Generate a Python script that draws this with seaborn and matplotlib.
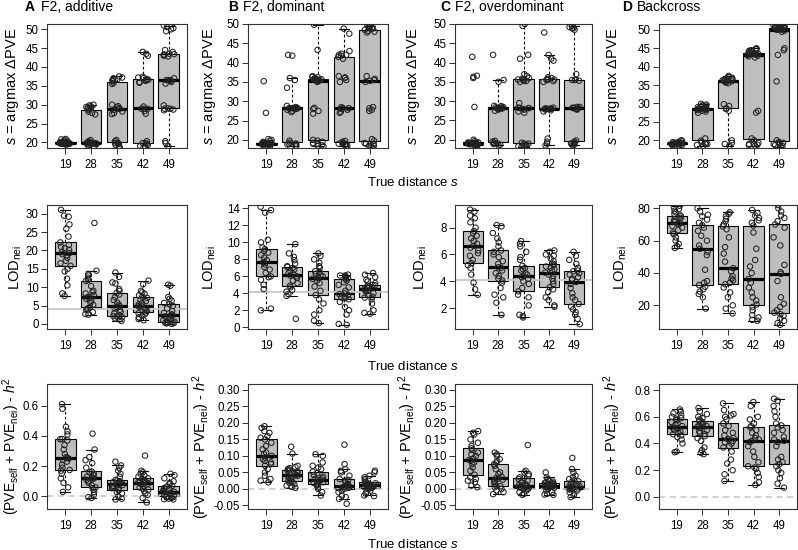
import numpy as np
import pandas as pd
import seaborn as sns
import matplotlib.pyplot as plt
from matplotlib.ticker import FormatStrFormatter

plt.rcParams['font.family'] = ['Liberation Sans', 'DejaVu Sans']
plt.rcParams['mathtext.fontset'] = 'custom'
plt.rcParams['mathtext.rm'] = 'Liberation Sans'
plt.rcParams['mathtext.it'] = 'Liberation Sans:italic'
plt.rcParams['mathtext.bf'] = 'Liberation Sans:bold'
plt.rcParams['axes.unicode_minus'] = False

np.random.seed(3)

distances = ['19', '28', '35', '42', '49']
panel_letters = ['A', 'B', 'C', 'D']
panel_titles = ['F2, additive', 'F2, dominant', 'F2, overdominant', 'Backcross']

# row 1: s = argmax dPVE
argmax_add = [
    [19.4, 19.5, 19.6, 19.6, 19.7, 19.7, 19.7, 19.8, 19.8, 19.8, 19.8, 19.8, 19.8, 19.9, 19.9, 19.9, 20.0, 20.0, 20.0, 20.1, 20.2, 20.4, 20.6, 20.8, 20.9],
    [18.6, 18.9, 19.2, 19.4, 19.5, 19.6, 19.7, 19.7, 19.8, 19.8, 19.8, 19.8, 19.8, 19.8, 19.8, 19.8, 19.9, 20.1, 20.3, 20.6,
     27.4, 27.8, 28.1, 28.6, 28.9, 29.0, 29.1, 29.2, 29.4, 29.6, 29.8, 30.0],
    [18.5, 18.7, 19.0, 19.3, 19.6, 19.8, 19.8, 20.3, 20.6, 27.5, 27.8, 28.2, 28.6, 28.9, 28.9, 29.0, 29.3, 29.6, 30.0,
     35.5, 35.8, 36.2, 36.5, 36.5, 36.8, 37.0, 37.2, 37.5],
    [18.5, 18.8, 19.0, 19.3, 19.6, 19.8, 19.8, 20.3, 27.6, 28.3, 28.9, 28.9, 28.9, 29.5,
     35.8, 36.0, 36.3, 36.5, 36.6, 36.8, 37.0, 37.2, 37.4, 43.0, 43.5, 44.0],
    [19.0, 19.8, 20.3, 28.5, 28.7, 28.9, 28.9, 29.0, 29.8, 35.6, 36.0, 36.3, 36.5, 36.5, 36.5, 37.0,
     42.8, 43.0, 43.2, 43.3, 43.4, 43.5, 44.0, 44.5, 49.5, 50.0, 50.3, 50.6, 51.0],
]
argmax_dom = [
    [18.5, 18.6, 18.7, 18.8, 18.8, 18.9, 18.9, 19.0, 19.0, 19.0, 19.0, 19.0, 19.0, 19.0, 19.1, 19.1, 19.2, 19.2, 19.3, 19.5, 19.8, 20.0, 20.2, 27.0, 35.2],
    [18.3, 18.5, 18.8, 19.0, 19.0, 19.0, 19.3, 19.8, 27.2, 27.5, 27.8, 28.0, 28.2, 28.2, 28.2, 28.2, 28.2, 28.2, 28.2, 28.3, 28.5, 28.8,
     33.5, 35.5, 36.0, 41.8, 42.0],
    [18.3, 18.5, 18.6, 19.0, 19.0, 19.2, 19.5, 19.8, 20.0, 26.8, 27.5, 28.0, 28.3,
     35.0, 35.2, 35.3, 35.5, 35.5, 35.5, 35.6, 35.6, 35.7, 35.8, 35.8, 36.0, 36.2, 36.3, 36.5, 43.3, 49.8],
    [18.3, 18.5, 18.7, 18.9, 19.0, 19.0, 19.2, 19.5, 19.7, 27.0, 27.3, 27.8, 28.0, 28.2, 28.2, 28.5,
     35.0, 35.5, 36.0, 36.2, 36.5, 41.0, 41.5, 41.8, 42.0, 42.0, 42.3, 43.0, 47.5, 48.8],
    [18.0, 18.2, 18.4, 18.5, 19.0, 19.0, 19.2, 19.8, 20.2, 27.5, 27.8, 28.2, 28.5, 35.0, 35.3, 35.5, 35.8, 36.5,
     47.8, 48.0, 48.2, 48.5, 48.8, 49.0, 49.0, 49.2, 49.3, 49.5, 49.6],
]
argmax_over = [
    [18.4, 18.5, 18.6, 18.7, 18.8, 18.8, 18.9, 18.9, 19.0, 19.0, 19.0, 19.0, 19.0, 19.0, 19.0, 19.1, 19.1, 19.2, 19.2, 19.3, 19.3, 19.6, 20.0,
     28.5, 36.0, 36.3, 36.6, 41.5],
    [18.5, 18.7, 18.9, 19.0, 19.0, 19.2, 19.5, 19.7, 27.5, 27.8, 28.0, 28.1, 28.2, 28.2, 28.2, 28.2, 28.2, 28.3, 28.4, 28.5, 28.7, 28.8,
     35.0, 35.5, 42.0],
    [18.0, 18.2, 18.3, 18.5, 18.6, 18.8, 19.0, 19.0, 19.2, 27.0, 27.3, 27.8, 28.0, 28.2, 28.2, 28.2, 28.3, 29.5,
     35.0, 35.2, 35.3, 35.5, 35.5, 35.6, 35.8, 36.0, 36.5, 37.0, 41.0, 42.0, 49.5, 50.0],
    [18.5, 19.0, 19.5, 20.3, 27.3, 27.6, 27.8, 28.0, 28.0, 28.0, 28.0, 28.0, 28.0, 28.0, 28.1, 28.3,
     35.0, 35.2, 35.5, 35.5, 35.6, 35.8, 36.0, 36.2, 40.5, 41.0, 42.0, 47.8],
    [18.5, 18.7, 18.9, 19.0, 19.0, 19.3, 19.5, 19.8, 27.8, 28.0, 28.2, 28.2, 28.2, 28.3, 28.5, 28.5,
     35.3, 35.5, 35.5, 35.6, 37.0, 48.5, 48.8, 49.0, 49.2, 49.5],
]
argmax_bc = [
    [18.5, 18.6, 18.7, 18.8, 18.9, 18.9, 19.0, 19.0, 19.0, 19.1, 19.1, 19.1, 19.2, 19.2, 19.2, 19.2, 19.2, 19.3, 19.3, 19.3, 19.4, 19.5, 19.6, 19.8, 20.0],
    [18.5, 18.7, 19.0, 19.0, 19.2, 19.5, 19.9, 20.5, 27.5, 27.8, 28.0, 28.2, 28.3, 28.5, 28.5, 28.5, 28.5, 28.6, 28.7, 28.8,
     29.0, 29.2, 29.4, 29.5, 29.7, 29.9],
    [18.5, 19.0, 19.3, 20.0, 28.0, 28.5, 28.7, 29.3, 29.8, 35.5, 35.7, 35.8, 36.0, 36.0, 36.2, 36.3, 36.3, 36.3, 36.3,
     36.5, 36.5, 36.6, 36.8, 37.0, 37.2, 37.5],
    [18.5, 18.7, 18.8, 19.0, 19.0, 19.3, 20.0, 20.5, 27.5, 28.0, 42.5, 42.8, 43.0, 43.2, 43.3, 43.5, 43.5, 43.5, 43.5,
     43.6, 43.8, 44.0, 44.2, 44.3, 44.5, 44.7, 44.8, 45.0],
    [18.3, 18.5, 18.7, 19.0, 19.0, 19.2, 19.3, 19.5, 20.0, 36.0, 43.2, 44.5, 45.0,
     49.5, 49.8, 50.0, 50.0, 50.2, 50.3, 50.4, 50.5, 50.5, 50.5, 50.5, 50.6, 50.6, 50.8, 50.9, 51.0, 51.0, 51.2],
]

# row 2: LOD of the neighbouring locus
lod_add = [
    [7.6, 8.3, 10.5, 12.3, 14.3, 15.0, 15.8, 16.5, 17.2, 18.0, 18.7, 19.0, 19.3, 19.6, 20.2, 20.6, 21.0, 21.5, 22.2, 23.8, 25.9, 27.1, 29.2, 29.5, 31.1],
    [2.5, 2.7, 3.2, 3.8, 4.0, 4.3, 4.5, 5.2, 5.8, 6.3, 6.8, 7.0, 7.3, 7.8, 8.3, 8.6, 9.0, 10.3, 11.7, 12.0, 12.6, 13.2, 13.6, 14.5, 27.5],
    [0.8, 1.2, 1.5, 1.8, 2.0, 2.1, 2.2, 2.8, 3.3, 3.8, 4.3, 4.6, 4.8, 5.2, 5.8, 6.5, 7.3, 8.0, 8.4, 9.0, 9.5, 11.0, 11.3, 12.8, 14.0],
    [1.0, 1.3, 1.8, 2.2, 2.6, 2.9, 3.1, 3.5, 3.9, 4.3, 4.6, 4.8, 5.0, 5.3, 5.7, 6.2, 6.6, 7.1, 7.4, 7.8, 8.2, 8.6, 9.0, 10.8, 11.8],
    [0.0, 0.1, 0.2, 0.3, 0.4, 0.5, 0.6, 1.0, 1.4, 1.7, 2.0, 2.2, 2.3, 2.6, 3.0, 3.5, 4.2, 4.9, 5.4, 5.7, 6.3, 6.8, 7.3, 10.4, 10.7],
]
lod_dom = [
    [2.0, 2.2, 4.5, 5.0, 5.6, 5.9, 6.0, 6.4, 6.8, 7.1, 7.4, 7.6, 7.7, 7.9, 8.2, 8.5, 8.8, 9.0, 9.2, 9.4, 10.0, 10.3, 13.5, 13.8, 14.2],
    [1.0, 3.7, 3.9, 4.2, 4.4, 4.7, 4.9, 5.2, 5.5, 5.8, 6.0, 6.1, 6.2, 6.4, 6.6, 6.8, 7.0, 7.1, 7.2, 7.5, 7.9, 8.3, 8.7, 9.8],
    [0.5, 0.8, 1.5, 2.0, 2.8, 3.3, 3.8, 4.3, 4.8, 5.2, 5.5, 5.7, 5.8, 5.9, 6.0, 6.1, 6.3, 6.5, 6.6, 7.0, 7.2, 7.6, 8.0, 8.4, 8.7],
    [0.3, 0.4, 1.5, 2.0, 2.4, 3.0, 3.3, 3.4, 3.5, 3.6, 3.8, 3.9, 4.0, 4.3, 4.7, 5.0, 5.3, 5.5, 5.7, 5.8, 5.9, 6.0, 6.1, 6.1, 6.2],
    [1.6, 1.7, 2.0, 2.8, 3.3, 3.5, 3.6, 3.8, 4.0, 4.2, 4.3, 4.4, 4.5, 4.6, 4.7, 4.8, 4.9, 4.95, 5.0, 5.2, 5.4, 5.6, 5.9, 6.2, 6.4],
]
lod_over = [
    [3.0, 3.4, 3.9, 4.5, 5.0, 5.2, 5.35, 5.6, 5.9, 6.1, 6.3, 6.5, 6.65, 6.8, 7.0, 7.2, 7.4, 7.6, 7.75, 8.0, 8.4, 8.7, 8.9, 9.2, 9.35],
    [1.5, 2.4, 2.8, 3.0, 3.5, 3.9, 4.05, 4.2, 4.4, 4.6, 4.8, 5.0, 5.05, 5.3, 5.5, 5.8, 6.0, 6.2, 6.3, 6.6, 6.9, 7.2, 7.6, 8.1, 8.2],
    [1.3, 1.4, 1.5, 2.2, 2.8, 3.0, 3.25, 3.5, 3.8, 4.0, 4.2, 4.3, 4.4, 4.5, 4.6, 4.8, 4.9, 5.0, 5.15, 5.6, 5.8, 6.2, 6.6, 6.8, 7.0],
    [2.1, 2.2, 2.6, 2.8, 3.2, 3.4, 3.55, 3.8, 4.0, 4.2, 4.4, 4.5, 4.65, 4.8, 4.9, 5.0, 5.1, 5.2, 5.3, 5.5, 5.7, 5.9, 6.0, 6.2, 6.3],
    [0.8, 1.2, 1.5, 1.7, 1.9, 2.1, 2.3, 2.6, 2.8, 3.1, 3.5, 3.8, 3.95, 4.1, 4.2, 4.3, 4.5, 4.6, 4.75, 4.8, 5.0, 5.3, 5.6, 5.9, 6.2],
]
lod_bc = [
    [55.5, 56.5, 58.0, 60.0, 62.0, 64.0, 65.0, 66.5, 68.0, 69.0, 70.0, 70.5, 71.0, 71.5, 72.0, 73.0, 74.0, 75.0, 75.5, 76.5, 77.5, 78.5, 79.5, 80.5, 81.5],
    [18.0, 25.0, 27.0, 28.5, 30.0, 31.5, 32.5, 34.0, 35.0, 42.0, 51.0, 53.0, 55.0, 57.0, 60.0, 63.0, 66.0, 68.0, 69.5, 71.0, 73.0, 75.0, 76.0, 78.0, 80.0],
    [15.0, 18.0, 20.0, 25.0, 28.0, 31.0, 33.0, 34.0, 35.5, 36.5, 38.0, 41.0, 43.0, 47.0, 52.0, 56.0, 62.0, 67.0, 68.8, 70.0, 72.0, 73.5, 75.0, 76.5, 77.5],
    [10.5, 11.0, 12.5, 14.0, 17.0, 19.0, 20.5, 23.0, 25.0, 28.0, 31.0, 34.0, 36.3, 40.0, 44.0, 48.0, 55.0, 65.0, 69.3, 71.0, 72.5, 74.0, 75.5, 77.0, 79.0],
    [8.0, 9.0, 10.5, 12.0, 13.5, 14.5, 15.5, 17.0, 19.0, 21.0, 25.0, 35.0, 39.5, 40.5, 45.0, 57.0, 62.0, 68.0, 70.0, 72.0, 74.0, 75.5, 78.0, 80.0, 82.0],
]

# row 3: (PVE_self + PVE_nei) - h^2
pve_add = [
    [0.03, 0.06, 0.09, 0.12, 0.15, 0.17, 0.175, 0.19, 0.21, 0.23, 0.24, 0.25, 0.255, 0.26, 0.28, 0.31, 0.34, 0.37, 0.378, 0.38, 0.41, 0.43, 0.46, 0.58, 0.61],
    [-0.01, -0.005, 0.01, 0.03, 0.045, 0.055, 0.06, 0.075, 0.09, 0.10, 0.11, 0.115, 0.12, 0.125, 0.13, 0.14, 0.15, 0.16, 0.165, 0.19, 0.22, 0.24, 0.26, 0.31, 0.415],
    [-0.02, -0.015, 0.0, 0.02, 0.03, 0.04, 0.045, 0.055, 0.06, 0.065, 0.07, 0.075, 0.08, 0.085, 0.09, 0.095, 0.10, 0.105, 0.11, 0.13, 0.15, 0.17, 0.19, 0.205, 0.23],
    [-0.04, -0.01, 0.01, 0.02, 0.035, 0.045, 0.05, 0.06, 0.07, 0.08, 0.085, 0.09, 0.092, 0.095, 0.10, 0.105, 0.11, 0.115, 0.12, 0.13, 0.14, 0.15, 0.16, 0.17, 0.27],
    [-0.02, -0.018, -0.015, -0.01, -0.005, 0.0, 0.005, 0.01, 0.015, 0.02, 0.025, 0.028, 0.03, 0.035, 0.04, 0.045, 0.055, 0.065, 0.07, 0.08, 0.09, 0.10, 0.12, 0.14, 0.15],
]
pve_dom = [
    [0.02, 0.025, 0.03, 0.04, 0.05, 0.06, 0.07, 0.075, 0.08, 0.085, 0.09, 0.095, 0.10, 0.105, 0.11, 0.12, 0.13, 0.14, 0.15, 0.155, 0.16, 0.17, 0.175, 0.185, 0.19],
    [0.003, 0.006, 0.01, 0.014, 0.018, 0.02, 0.022, 0.026, 0.03, 0.033, 0.036, 0.038, 0.04, 0.042, 0.045, 0.048, 0.05, 0.053, 0.055, 0.058, 0.06, 0.063, 0.066, 0.07, 0.107, 0.128],
    [-0.02, -0.01, 0.0, 0.005, 0.01, 0.013, 0.015, 0.018, 0.02, 0.022, 0.025, 0.027, 0.028, 0.03, 0.033, 0.037, 0.042, 0.048, 0.052, 0.06, 0.065, 0.07, 0.08, 0.10, 0.105],
    [-0.045, -0.03, -0.025, -0.02, -0.01, -0.005, 0.0, 0.002, 0.003, 0.005, 0.006, 0.007, 0.008, 0.01, 0.012, 0.015, 0.02, 0.025, 0.027, 0.03, 0.04, 0.05, 0.055, 0.06, 0.075, 0.134],
    [-0.022, -0.02, -0.015, -0.01, -0.005, 0.0, 0.003, 0.004, 0.005, 0.006, 0.008, 0.009, 0.01, 0.011, 0.012, 0.013, 0.015, 0.017, 0.018, 0.02, 0.025, 0.03, 0.035, 0.04, 0.05, 0.055],
]
pve_over = [
    [0.005, 0.01, 0.02, 0.025, 0.03, 0.035, 0.043, 0.055, 0.065, 0.075, 0.08, 0.085, 0.088, 0.092, 0.10, 0.105, 0.11, 0.118, 0.123, 0.13, 0.14, 0.15, 0.165, 0.17, 0.175],
    [-0.016, -0.01, -0.005, 0.0, 0.005, 0.008, 0.01, 0.015, 0.02, 0.025, 0.028, 0.03, 0.033, 0.037, 0.045, 0.05, 0.06, 0.07, 0.075, 0.08, 0.085, 0.09, 0.10, 0.105, 0.11],
    [-0.018, -0.015, -0.01, -0.005, 0.0, 0.002, 0.003, 0.004, 0.005, 0.006, 0.008, 0.009, 0.01, 0.012, 0.015, 0.02, 0.025, 0.03, 0.032, 0.035, 0.04, 0.045, 0.05, 0.055, 0.133],
    [-0.018, -0.017, -0.015, -0.01, -0.005, 0.0, 0.003, 0.004, 0.005, 0.006, 0.008, 0.009, 0.01, 0.011, 0.012, 0.014, 0.015, 0.017, 0.018, 0.02, 0.022, 0.025, 0.03, 0.035, 0.05],
    [-0.025, -0.02, -0.015, -0.01, -0.005, -0.002, 0.0, 0.001, 0.002, 0.003, 0.004, 0.0045, 0.005, 0.007, 0.01, 0.013, 0.017, 0.02, 0.023, 0.025, 0.03, 0.035, 0.04, 0.05, 0.06, 0.094],
]
pve_bc = [
    [0.335, 0.34, 0.40, 0.43, 0.45, 0.46, 0.47, 0.48, 0.49, 0.50, 0.51, 0.515, 0.52, 0.53, 0.54, 0.55, 0.56, 0.575, 0.585, 0.59, 0.60, 0.61, 0.625, 0.64, 0.655],
    [0.32, 0.33, 0.35, 0.37, 0.42, 0.44, 0.455, 0.47, 0.48, 0.49, 0.50, 0.515, 0.525, 0.53, 0.54, 0.545, 0.55, 0.56, 0.57, 0.58, 0.59, 0.60, 0.62, 0.64, 0.665],
    [0.12, 0.17, 0.20, 0.25, 0.28, 0.34, 0.37, 0.38, 0.40, 0.41, 0.42, 0.43, 0.435, 0.44, 0.46, 0.48, 0.50, 0.53, 0.55, 0.58, 0.60, 0.61, 0.62, 0.65, 0.70],
    [0.09, 0.11, 0.15, 0.18, 0.21, 0.22, 0.23, 0.26, 0.30, 0.34, 0.38, 0.41, 0.42, 0.43, 0.44, 0.46, 0.48, 0.50, 0.52, 0.53, 0.55, 0.58, 0.60, 0.68, 0.71],
    [0.07, 0.10, 0.14, 0.18, 0.20, 0.23, 0.245, 0.26, 0.28, 0.30, 0.38, 0.41, 0.42, 0.43, 0.45, 0.48, 0.50, 0.52, 0.535, 0.55, 0.60, 0.64, 0.68, 0.72, 0.735],
]

rows_data = [
    [argmax_add, argmax_dom, argmax_over, argmax_bc],
    [lod_add, lod_dom, lod_over, lod_bc],
    [pve_add, pve_dom, pve_over, pve_bc],
]
row_ylabels = [
    '$s$ = argmax ΔPVE',
    'LOD$_{\\mathrm{nei}}$',
    '(PVE$_{\\mathrm{self}}$ + PVE$_{\\mathrm{nei}}$) - $h^2$',
]
ylims = [
    [(18.5, 51.4), (17.9, 50.0), (17.85, 50.0), (17.9, 51.6)],
    [(-1.4, 32.4), (-0.2, 14.4), (0.44, 9.69), (5.4, 82.0)],
    [(-0.083, 0.743), (-0.061, 0.318), (-0.061, 0.318), (-0.09, 0.845)],
]
yticks = [
    [np.arange(20, 51, 5)] * 4,
    [np.arange(0, 31, 5), np.arange(0, 15, 2), np.arange(2, 9, 2), np.arange(20, 81, 20)],
    [np.arange(0, 0.61, 0.2), np.arange(-0.05, 0.31, 0.05), np.arange(-0.05, 0.31, 0.05), np.arange(0, 0.81, 0.2)],
]
yfmt = [['%d'] * 4, ['%d'] * 4, ['%.1f', '%.2f', '%.2f', '%.1f']]

# layout in pixels
W, H = 798, 550
col_x = [(47, 187), (248, 388), (455, 592), (659, 797)]
row_y = [(24, 148), (205, 329), (384, 509)]
ylab_x = [[13, 210, 413, 613], [16, 210, 421, 621], [11, 201, 407, 612]]
title_x = [(25, 41), (228, 243), (440, 455), (622, 637)]
frame_col = '#333333'

fig = plt.figure(figsize=(W / 100, H / 100), dpi=100)

for r in range(3):
    for c in range(4):
        x0, x1 = col_x[c]
        y0, y1 = row_y[r]
        ax = fig.add_axes([x0 / W, 1 - y1 / H, (x1 - x0) / W, (y1 - y0) / H])
        groups = rows_data[r][c]
        df = pd.DataFrame({
            'dist': np.repeat(distances, [len(g) for g in groups]),
            'val': np.concatenate(groups),
        })
        sns.boxplot(data=df, x='dist', y='val', order=distances, ax=ax,
                    color='#BEBEBE', saturation=1, width=0.8, linecolor='black',
                    linewidth=0.8, showfliers=False, whis=1.5,
                    whiskerprops={'linestyle': (0, (2.5, 2))},
                    medianprops={'linewidth': 2.3, 'color': 'black'})
        if r == 1 and c < 3:
            ax.axhline(4.1, color='#C8C8C8', lw=1.3, zorder=2.5)
        if r == 2:
            ax.axhline(0, color='#C4C4C4', lw=1.1, ls=(0, (4, 3)), zorder=2.5)
        sns.stripplot(data=df, x='dist', y='val', order=distances, ax=ax,
                      jitter=0.22, size=3.9, marker='o', color='#222222',
                      facecolor='none', edgecolor='#222222', linewidth=0.75,
                      zorder=4)
        ax.set_xlim(-0.7, 4.7)
        ax.set_ylim(*ylims[r][c])
        ax.set_yticks(yticks[r][c])
        ax.yaxis.set_major_formatter(FormatStrFormatter(yfmt[r][c]))
        ax.set_xlabel('')
        ax.set_ylabel('')
        for sp in ax.spines.values():
            sp.set_visible(True)
            sp.set_color(frame_col)
            sp.set_linewidth(0.8)
        ax.tick_params(axis='both', direction='out', length=4, width=0.7,
                       color=frame_col, labelsize=8.3)
        ax.tick_params(axis='y', pad=2)
        ax.tick_params(axis='x', pad=4)
        fs = 10 if (r == 2 and c == 0) else 10.5
        fig.text(ylab_x[r][c] / W, 1 - (y0 + y1) / 2 / H, row_ylabels[r],
                 rotation=90, ha='center', va='center', fontsize=fs)

for c in range(4):
    fig.text(title_x[c][0] / W, 1 - 7 / H, panel_letters[c], fontweight='bold',
             fontsize=10, ha='left', va='center')
    fig.text(title_x[c][1] / W, 1 - 7 / H, panel_titles[c],
             fontsize=10, ha='left', va='center')

for yy in [183, 366, 545]:
    fig.text(413 / W, 1 - yy / H, 'True distance $s$', ha='center', va='center', fontsize=9.5)

fig.savefig('out.png', dpi=100)
